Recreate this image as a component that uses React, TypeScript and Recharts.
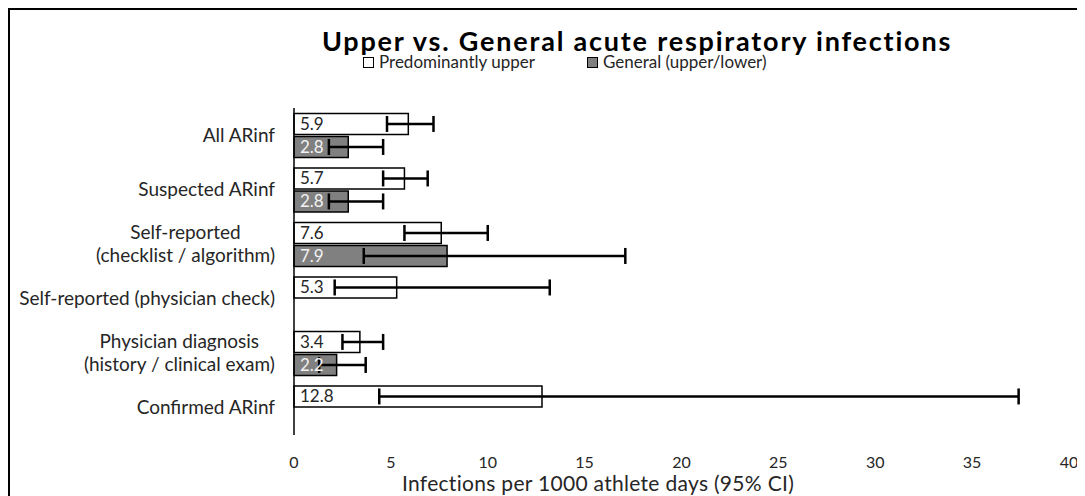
import { BarChart, Bar, XAxis, YAxis, ErrorBar, LabelList, Legend } from 'recharts';

const categories = [
  'All ARinf',
  'Suspected ARinf',
  'Self-reported\n(checklist / algorithm)',
  'Self-reported (physician check)',
  'Physician diagnosis\n(history / clinical exam)',
  'Confirmed ARinf',
];
const upper = [5.9, 5.7, 7.6, 5.3, 3.4, 12.8];
const upperLow = [4.8, 4.6, 5.7, 2.1, 2.5, 4.4];
const upperHigh = [7.2, 6.9, 10.0, 13.2, 4.6, 37.4];
const general: (number | null)[] = [2.8, 2.8, 7.9, null, 2.2, null];
const generalLow: (number | null)[] = [1.8, 1.8, 3.6, null, 1.3, null];
const generalHigh: (number | null)[] = [4.6, 4.6, 17.1, null, 3.7, null];
const xTicks = [0, 5, 10, 15, 20, 25, 30, 35, 40];

const FONT = 'Lato, "Open Sans", sans-serif';
const GREY = '#808080';
const INK = '#262626';

const data = categories.map((name, i) => ({
  name,
  upper: upper[i],
  upperErr: [upper[i] - upperLow[i], upperHigh[i] - upper[i]],
  general: general[i],
  generalErr:
    general[i] == null
      ? undefined
      : [general[i]! - generalLow[i]!, generalHigh[i]! - general[i]!],
}));

let ctx: CanvasRenderingContext2D | null = null;
function textWidth(s: string, font: string) {
  if (!ctx) ctx = document.createElement('canvas').getContext('2d');
  if (!ctx) return s.length * 9;
  ctx.font = font;
  return ctx.measureText(s).width;
}

// y-axis labels: two-line labels are centred on each other, block right-aligned
function CategoryTick(props: any) {
  const { x, y, payload } = props;
  const lines = String(payload.value).split('\n');
  const lh = 23;
  const maxW = Math.max(...lines.map((l) => textWidth(l, `19px ${FONT}`)));
  return (
    <g>
      {lines.map((l, i) => (
        <text
          key={i}
          x={lines.length > 1 ? x - maxW / 2 : x}
          y={y + (i - (lines.length - 1) / 2) * lh}
          dy="0.35em"
          textAnchor={lines.length > 1 ? 'middle' : 'end'}
          fontSize={19}
          fontFamily={FONT}
          fill={INK}
        >
          {l}
        </text>
      ))}
    </g>
  );
}

function LegendBox() {
  const item = (fill: string, label: string, gap: number) => (
    <div style={{ display: 'flex', alignItems: 'center', marginRight: gap }}>
      <span
        style={{
          display: 'inline-block',
          width: 9,
          height: 9,
          background: fill,
          border: '1.5px solid #000',
          marginRight: 5,
        }}
      />
      <span>{label}</span>
    </div>
  );
  return (
    <div style={{ display: 'flex', fontFamily: FONT, fontSize: 17, color: INK, lineHeight: '20px' }}>
      {item('#fff', 'Predominantly upper', 52)}
      {item(GREY, 'General (upper/lower)', 0)}
    </div>
  );
}

export default function App() {
  return (
    <div
      style={{
        position: 'relative',
        width: 1067,
        height: 486,
        borderLeft: '2px solid #000',
        borderTop: '2px solid #000',
      }}
    >
      <div
        style={{
          position: 'absolute',
          left: 177,
          top: 16,
          width: 900,
          textAlign: 'center',
          fontFamily: FONT,
          fontWeight: 700,
          fontSize: 27,
          letterSpacing: 1.8,
          lineHeight: '30px',
          color: '#000',
        }}
      >
        Upper vs. General acute respiratory infections
      </div>
      <BarChart
        width={1067}
        height={486}
        data={data}
        layout="vertical"
        margin={{ top: 98, right: 8, bottom: 11, left: 0 }}
        barCategoryGap="10%"
        barGap={2}
      >
        <Legend
          layout="horizontal"
          verticalAlign="middle"
          align="center"
          wrapperStyle={{ top: 42, left: 353, width: 'auto' }}
          content={() => <LegendBox />}
        />
        <XAxis
          type="number"
          domain={[0, 40]}
          ticks={xTicks}
          axisLine={false}
          tickLine={false}
          tickSize={0}
          tickMargin={22}
          height={50}
          interval={0}
          tick={{ fontSize: 16, fontFamily: FONT, fill: INK }}
        />
        <YAxis
          type="category"
          dataKey="name"
          width={284}
          axisLine={{ stroke: '#000', strokeWidth: 1.5 }}
          tickLine={false}
          tickSize={0}
          tickMargin={19}
          interval={0}
          tick={<CategoryTick />}
        />
        <Bar dataKey="upper" fill="#fff" stroke="#000" strokeWidth={1.5} isAnimationActive={false}>
          <LabelList
            dataKey="upper"
            position="insideLeft"
            offset={6}
            style={{ fontSize: 17, fontFamily: FONT, fill: INK }}
          />
          <ErrorBar dataKey="upperErr" direction="x" width={8} stroke="#000" strokeWidth={2.5} />
        </Bar>
        <Bar dataKey="general" fill={GREY} stroke="#000" strokeWidth={1.5} isAnimationActive={false}>
          <LabelList
            dataKey="general"
            position="insideLeft"
            offset={6}
            style={{ fontSize: 17, fontFamily: FONT, fill: '#f2f2f2' }}
          />
          <ErrorBar dataKey="generalErr" direction="x" width={8} stroke="#000" strokeWidth={2.5} />
        </Bar>
      </BarChart>
      <div
        style={{
          position: 'absolute',
          left: 188,
          top: 462,
          width: 800,
          textAlign: 'center',
          fontFamily: FONT,
          fontSize: 21,
          letterSpacing: 0.3,
          lineHeight: '22px',
          color: INK,
        }}
      >
        Infections per 1000 athlete days (95% CI)
      </div>
    </div>
  );
}
